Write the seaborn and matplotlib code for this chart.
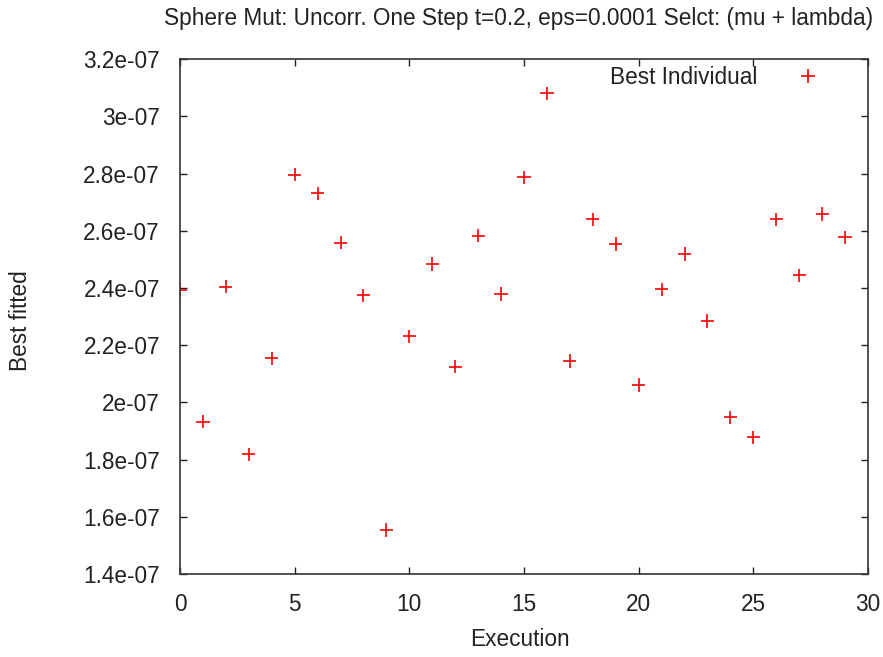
import matplotlib
matplotlib.use("Agg")
import matplotlib.pyplot as plt
import seaborn as sns
import pandas as pd
from matplotlib.ticker import FuncFormatter

execution = list(range(30))
best_fitted = [2.393e-07, 1.932e-07, 2.405e-07, 1.819e-07, 2.155e-07, 2.796e-07,
               2.731e-07, 2.559e-07, 2.375e-07, 1.554e-07, 2.231e-07, 2.484e-07,
               2.125e-07, 2.583e-07, 2.379e-07, 2.787e-07, 3.081e-07, 2.145e-07,
               2.641e-07, 2.554e-07, 2.061e-07, 2.396e-07, 2.519e-07, 2.285e-07,
               1.948e-07, 1.878e-07, 2.641e-07, 2.445e-07, 2.659e-07, 2.577e-07]
x_ticks = [0, 5, 10, 15, 20, 25, 30]
y_ticks = [1.4e-07, 1.6e-07, 1.8e-07, 2.0e-07, 2.2e-07, 2.4e-07, 2.6e-07,
           2.8e-07, 3.0e-07, 3.2e-07]
title = "Sphere Mut: Uncorr. One Step t=0.2, eps=0.0001 Selct: (mu + lambda)"
series_name = "Best Individual"

df = pd.DataFrame({"Execution": execution, "Best fitted": best_fitted,
                   "series": series_name})

sns.set_style("ticks")
plt.rcParams['font.family'] = ['Liberation Sans', 'DejaVu Sans']
FS = 16.3
TXT = "#222222"

fig = plt.figure(figsize=(8.83, 6.57), dpi=100)
ax = fig.add_axes([180/883, 1-574/657, (868-180)/883, (574-59.3)/657])

sns.scatterplot(data=df, x="Execution", y="Best fitted", hue="series",
                palette=["#ff0000"], marker="+", s=90, linewidth=1.2, ax=ax,
                legend=True)

ax.set_xlim(0, 30)
ax.set_ylim(1.4e-07, 3.2e-07)
ax.set_xticks(x_ticks)
ax.set_yticks(y_ticks)
ax.yaxis.set_major_formatter(FuncFormatter(lambda v, p: "%g" % v))
ax.tick_params(direction="in", length=5, width=1, top=True, right=True,
               labelsize=FS, colors=TXT)
ax.tick_params(axis="x", pad=13.5)
ax.tick_params(axis="y", pad=14.4)
for sp in ax.spines.values():
    sp.set_visible(True)
    sp.set_color("#333333")
    sp.set_linewidth(1.2)
ax.set_xlabel("")
ax.set_ylabel("")

leg = ax.legend(loc="upper right", markerfirst=False, frameon=False,
                fontsize=FS, handletextpad=1.75, borderaxespad=0.0,
                borderpad=0.0, handlelength=1.0,
                bbox_to_anchor=(0.929, 0.987))
leg.get_texts()[0].set_text(series_name)
for t in leg.get_texts():
    t.set_color(TXT)

fig.text(519/883, 1-18/657, title, ha="center", va="center", fontsize=FS,
         color=TXT)
fig.text(520/883, 1-640/657, "Execution", ha="center", va="center",
         fontsize=FS, color=TXT)
fig.text(21/883, 1-321/657, "Best fitted", ha="center", va="center",
         rotation=90, fontsize=FS, color=TXT)

fig.savefig("out.png", dpi=100)
